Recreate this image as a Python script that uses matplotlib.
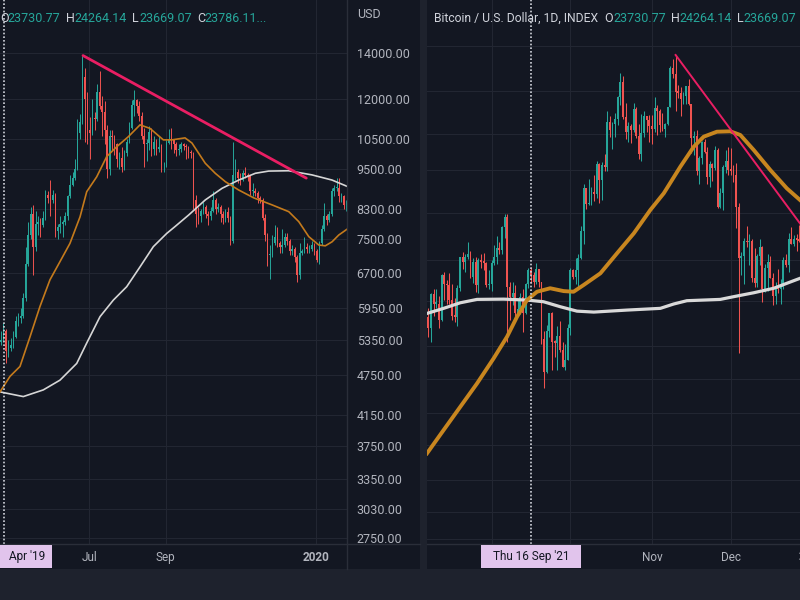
import numpy as np
import matplotlib.pyplot as plt
from matplotlib.patches import Rectangle
from matplotlib.lines import Line2D
from matplotlib.ticker import NullLocator
import matplotlib.transforms as mtransforms

plt.rcParams['font.family'] = ['Roboto', 'DejaVu Sans']

BG = '#131722'
OUTER = '#1e222d'
GRID = '#222632'
BORDER = '#2a2e39'
TXT = '#b2b5be'
LABEL = '#d1d4dc'
UP = '#26a69a'
DOWN = '#ef5350'
BOX = '#e1c4ec'

# ---- left chart: BTC/USD, 2-day candles from 2019-04-20 ----
left_start = '2019-04-20'
left_open0 = 5300
left_close = [5350, 5500, 5150, 5200, 5250, 5400, 5700, 5750, 5800, 6150,
              6900, 7600, 8150, 7300, 7900, 7950, 7850, 8050, 8700, 8600,
              8550, 8700, 7700, 7800, 7900, 7950, 8100, 8650, 9000, 9200,
              9500, 10700, 11100, 12900, 12000, 10800, 10700, 11250, 11200, 12300,
              11700, 11500, 10800, 9500, 10600, 10550, 10300, 9800, 9850, 9550,
              10000, 10400, 10900, 11750, 11950, 11700, 11350, 10600, 10300, 10350,
              10750, 10150, 10400, 10150, 10200, 9600, 9600, 10350, 10500, 10450,
              10300, 10100, 10150, 10300, 10250, 10200, 10050, 10000, 8550, 8150,
              8100, 8250, 8350, 8150, 8100, 8250, 8550, 8300, 8350, 8150,
              8050, 8200, 8050, 7450, 9300, 9400, 9200, 9150, 9350, 9300,
              9250, 8800, 8800, 8750, 8600, 8550, 8050, 7600, 7100, 7100,
              7400, 7550, 7400, 7300, 7350, 7550, 7450, 7200, 7250, 7050,
              6650, 7150, 7200, 7300, 7250, 7250, 7350, 7200, 7000, 7400,
              7750, 8100, 8000, 8150, 8800, 8900, 8900, 8650, 8650, 8400, 8500]
left_high = [5500, 5650, 5550, 5350, 5380, 5500, 5800, 5850, 5950, 6250,
             7300, 7950, 8350, 8400, 8250, 8100, 8050, 8250, 8850, 8800,
             9150, 8850, 8750, 7900, 8100, 8000, 8200, 8700, 9300, 9400,
             9800, 11200, 11400, 13850, 13300, 12300, 11300, 12000, 11500, 12600,
             13200, 12100, 11900, 11000, 10800, 10800, 10650, 10350, 10050, 10200,
             10100, 10500, 11100, 11950, 12350, 12000, 11900, 11500, 10900, 10500,
             10950, 10900, 10600, 10500, 10600, 10300, 9700, 10450, 10850, 10900,
             10500, 10400, 10300, 10400, 10350, 10300, 10250, 10100, 10050, 8700,
             8350, 8300, 8500, 8400, 8250, 8350, 8800, 8600, 8450, 8400,
             8250, 8300, 8350, 8100, 10400, 9800, 9500, 9350, 9450, 9550,
             9350, 9300, 9050, 8900, 8800, 8650, 8600, 8150, 7650, 7350,
             7600, 7850, 7800, 7450, 7750, 7650, 7650, 7500, 7350, 7300,
             7100, 7400, 7250, 7550, 7400, 7350, 7450, 7400, 7250, 7450,
             7850, 8450, 8150, 8250, 8900, 9000, 9200, 9200, 8750, 8700, 8550]
left_low = [5250, 5300, 4950, 5050, 5150, 5200, 5380, 5600, 5650, 5750,
            6100, 6850, 7500, 6650, 7200, 7600, 7550, 7800, 8000, 8450,
            8100, 8450, 7550, 7500, 7650, 7550, 7850, 8000, 8600, 8950,
            9150, 9450, 10500, 11050, 10400, 10300, 9800, 10650, 10800, 11150,
            11600, 10600, 10300, 9200, 9300, 10100, 9950, 9550, 9500, 9400,
            9450, 9900, 10350, 10850, 11350, 11450, 11150, 10500, 9550, 9750,
            10100, 9900, 9950, 9950, 10050, 9400, 9400, 9550, 10300, 10150,
            10000, 9900, 9950, 10050, 10100, 9800, 9850, 9850, 8300, 7800,
            7900, 7950, 8150, 8050, 7850, 8000, 8200, 8150, 8200, 7950,
            7900, 7950, 7950, 7350, 7400, 9150, 9050, 9000, 9100, 9200,
            9100, 8700, 8650, 8650, 8450, 8450, 8000, 7450, 6850, 6550,
            7050, 7350, 7300, 7150, 7150, 7300, 7350, 7100, 7100, 6950,
            6500, 6550, 7100, 7150, 7150, 7150, 7200, 7100, 6950, 6900,
            7350, 7700, 7850, 7950, 8100, 8650, 8800, 8500, 8500, 8300, 8250]

# moving averages (day offset from left_start, price)
left_ma50_day = [-0.3, 7.8, 15.9, 24.0, 32.1, 40.2, 48.3, 56.4, 64.6, 70.0, 78.1, 86.2, 94.3,
                 103.7, 113.2, 121.3, 132.1, 139.1, 149.7, 155.3, 166.1, 174.2, 182.4, 193.2,
                 205.4, 220.2, 233.8, 241.9, 250.0, 258.1, 263.4, 268.9, 274.3, 281]
left_ma50 = [4490, 4730, 4890, 5400, 5980, 6540, 6950, 7390, 8080, 8790, 9240, 9890, 10220,
             10570, 11000, 10870, 10460, 10460, 10530, 10350, 9670, 9350, 9090, 8840,
             8610, 8410, 8220, 7950, 7560, 7350, 7330, 7430, 7600, 7750]
left_ma200_day = [-0.3, 18.6, 34.8, 48.3, 61.9, 70.0, 80.8, 91.6, 102.4, 113.2, 124.0, 134.8,
                  141.6, 152.7, 166.1, 179.7, 193.2, 206.7, 217.5, 233.7, 252.6, 268.9, 281]
left_ma200 = [4490, 4420, 4520, 4670, 4940, 5290, 5780, 6110, 6390, 6830, 7310, 7640,
              7820, 8130, 8550, 8890, 9140, 9350, 9420, 9430, 9300, 9140, 8950]
left_trend_dates = ['2019-06-26', '2019-12-24']
left_trend_prices = [13880, 9200]
left_price_ticks = [14000, 12000, 10500, 9500, 8300, 7500, 6700, 5950, 5350,
                    4750, 4150, 3750, 3350, 3030, 2750]
left_time_ticks = ['2019-07-01', '2019-09-01', '2020-01-01']
left_time_labels = ['Jul', 'Sep', '2020']
left_cross = '2019-04-23'

# ---- right chart: Bitcoin / U.S. Dollar, daily from 2021-08-08 ----
right_start = '2021-08-08'
right_open0 = 44600
right_close = [43800, 46300, 45600, 45600, 44400, 47800, 47100, 47000, 45900, 44700, 44600, 46800,
               49300, 48900, 49300, 49500, 47700, 48900, 47000, 49000, 48900, 48800, 47000, 47100,
               48800, 49300, 50000, 49900, 51800, 52700, 46900, 46100, 46400, 44900, 45200, 46100,
               44900, 47100, 48200, 47800, 47300, 48300, 47300, 43000, 40700, 43600, 44900, 42800,
               42700, 43200, 42200, 41000, 41500, 43800,
               48200, 47700, 48200, 49200, 51500, 55300, 53800, 53900, 54900, 54700, 57500, 56000,
               57400, 57300, 61700, 60900, 61500, 62000, 64300, 66000, 62200, 60700, 61300, 60900,
               63100, 60300, 58500, 60600, 62300, 61900, 61300,
               61000, 63200, 62900, 61400, 61000, 61500, 63300, 67500, 66900, 64900, 64800, 64100,
               64400, 65500, 63600, 60100, 60300, 56900, 58100, 59700, 58700, 56300, 57500, 57200,
               58900, 53600, 54800, 57300, 57800, 57000,
               56900, 56500, 53600, 49200, 49400, 50600, 50500, 50600, 47600, 47200, 49400, 50100,
               46700, 48400, 48900, 47600, 46200, 46800, 46700, 46900, 49000, 48600, 50800, 50400,
               50800, 50700, 50600]
right_high = [45300, 46400, 46700, 46700, 46200, 47900, 48100, 47400, 48000, 47100, 46000, 47000,
              49300, 49700, 49500, 50500, 49800, 49200, 49300, 49200, 49500, 49600, 48900, 48200,
              49000, 50300, 51000, 50500, 51900, 52900, 52900, 47300, 47300, 47000, 45900, 46400,
              46700, 47200, 48400, 48500, 48100, 48800, 48300, 47300, 43600, 44000, 44900, 45000,
              42900, 43900, 44300, 42800, 42600, 44100,
              48400, 48300, 49200, 49500, 51900, 55700, 55300, 56100, 55400, 56500, 57800, 57600,
              57700, 58500, 62900, 62300, 61700, 62600, 64400, 67000, 66600, 63700, 61700, 61500,
              63700, 63300, 61500, 62500, 62900, 62300, 62400,
              62400, 64300, 63500, 63100, 62600, 61600, 63300, 67800, 68500, 69000, 65600, 65400,
              64900, 65500, 66300, 63600, 60800, 60900, 58300, 59800, 60000, 59200, 57800, 57600,
              59300, 59100, 55300, 57400, 58900, 59200,
              59100, 57400, 57600, 53900, 49700, 50900, 51900, 51200, 50800, 50000, 49500, 50800,
              50200, 48700, 49500, 49400, 48000, 47300, 48300, 47500, 49300, 49500, 51300, 51800,
              51100, 51200, 52000]
right_low = [43100, 42800, 44700, 45300, 43800, 44300, 45900, 45600, 45600, 44400, 44200, 43900,
             46600, 48300, 48100, 49100, 47600, 47200, 46500, 46400, 48400, 48200, 46900, 46700,
             46600, 48600, 48700, 49500, 49500, 50900, 42800, 44400, 45500, 44200, 44800, 44800,
             43500, 44800, 46800, 47200, 46900, 47100, 46900, 42600, 39600, 40600, 43100, 40800,
             41700, 40800, 42100, 41000, 40800, 41500,
             43300, 47500, 47100, 46900, 49100, 50400, 53400, 53700, 53700, 54100, 54400, 53900,
             54200, 56900, 56900, 60200, 59000, 60200, 61400, 63500, 62000, 60000, 59700, 59600,
             60700, 60100, 58000, 57800, 60200, 60700, 59700,
             59500, 60700, 60400, 60700, 60800, 60200, 61400, 63300, 66400, 62800, 64200, 62300,
             63600, 63600, 63500, 58600, 58400, 56500, 55700, 57500, 58600, 55700, 55400, 55900,
             57000, 53500, 53500, 53300, 56700, 56500,
             56500, 55800, 51700, 42000, 47800, 47100, 50100, 48600, 47300, 46900, 46900, 48600,
             45700, 46500, 46600, 47600, 45500, 45600, 46400, 45600, 46700, 48500, 48100, 50400,
             50200, 49800, 50500]

right_ma50_day = [-0.53, 5.8, 12.1, 18.5, 24.8, 29.9, 33.7, 37.5, 41.3, 46.3, 51.4, 55.2, 59.0,
                  65.4, 71.7, 78.1, 84.4, 89.5, 95.8, 100.9, 104.7, 109.7, 114.8, 118.6, 123.7,
                  130.0, 136.3, 141.3]
right_ma50 = [35530, 36940, 38390, 39920, 41620, 43150, 44610, 45870, 46510, 46780, 46560, 46510,
              47030, 47960, 49580, 51260, 53300, 54800, 57280, 59220, 60220, 60720, 60760, 60390,
              58900, 56970, 55250, 54190]
right_ma200_day = [-0.53, 5.8, 12.1, 18.5, 28.6, 37.5, 43.8, 50.2, 56.5, 62.9, 75.5, 88.2, 93.3,
                   98.3, 111.0, 116.1, 123.7, 131.3, 141.3]
right_ma200 = [44860, 45240, 45660, 45920, 45940, 45870, 45740, 45360, 45030, 44960, 45110,
               45240, 45570, 45820, 45920, 46130, 46430, 46780, 47560]
right_trend_dates = ['2021-11-10', '2021-12-28']
right_trend_prices = [69000, 51900]
right_grid = [70000, 65000, 60500, 57000, 53000, 49000, 45800, 42500, 40200, 38000,
              36000, 34000, 32200, 30800]
right_time_ticks = ['2021-09-01', '2021-10-01', '2021-11-01', '2021-12-01']
right_time_labels = ['', '', 'Nov', 'Dec']
right_cross = '2021-09-16'


def day(d, start):
    return (np.datetime64(d) - np.datetime64(start)) / np.timedelta64(1, 'D')


def fx(px):
    return px / 800


def fy(py):
    return 1 - py / 600


def candles(ax, x, open0, close, high, low, width, wick):
    c = np.array(close, dtype=float)
    o = np.concatenate([[open0], c[:-1]])
    h = np.maximum(np.array(high, dtype=float), np.maximum(o, c))
    l = np.minimum(np.array(low, dtype=float), np.minimum(o, c))
    colors = np.where(c >= o, UP, DOWN)
    ax.vlines(x, l, h, colors=colors, lw=wick, zorder=3)
    bottom = np.minimum(o, c)
    height = np.maximum(np.abs(c - o), bottom * 0.003)
    ax.bar(x, height, width, bottom=bottom, color=colors, lw=0, zorder=4)


fig = plt.figure(figsize=(8, 6), dpi=100, facecolor=OUTER)

# pane backgrounds
fig.add_artist(Rectangle((0, fy(569)), fx(420), 569 / 600, transform=fig.transFigure,
                         fc=BG, ec='none', zorder=-2))
fig.add_artist(Rectangle((fx(427), fy(569)), fx(373), 569 / 600, transform=fig.transFigure,
                         fc=BG, ec='none', zorder=-2))

# ---------------- left ----------------
ax = fig.add_axes([0, fy(544), fx(347), 544 / 600])
ax.set_facecolor(BG)
ax.set_yscale('log')
ax.set_ylim(2695, 16725)
ax.set_xlim(-0.3, 281)
ax.yaxis.set_minor_locator(NullLocator())
ax.set_yticks(left_price_ticks)
ax.set_yticklabels([f'{v:.2f}' for v in left_price_ticks])
ax.yaxis.tick_right()
ax.tick_params(axis='y', length=0, pad=7, labelsize=9, labelcolor=TXT)
ax.set_xticks([day(d, left_start) for d in left_time_ticks])
ax.set_xticklabels(left_time_labels)
ax.tick_params(axis='x', length=0, pad=5, labelsize=8.5, labelcolor=TXT)
ax.get_xticklabels()[-1].set_fontweight('bold')
ax.grid(True, color=GRID, lw=0.8, zorder=0)
for s in ax.spines.values():
    s.set_visible(False)

lx = np.arange(len(left_close)) * 2 + 0.5
candles(ax, lx, left_open0, left_close, left_high, left_low, 1.2, 0.7)
ax.plot(left_ma200_day, left_ma200, color='#d6d6d6', lw=1.2, zorder=5)
ax.plot(left_ma50_day, left_ma50, color='#c47a1c', lw=1.2, zorder=5)
ax.plot([day(d, left_start) for d in left_trend_dates], left_trend_prices,
        color='#e91e63', lw=2, solid_capstyle='round', zorder=6)
ax.axvline(day(left_cross, left_start), color=LABEL, lw=1.2, ls=(0, (1, 1.2)), zorder=7)

# ---------------- right ----------------
ax2 = fig.add_axes([fx(427), fy(544), fx(373), 544 / 600])
ax2.set_facecolor(BG)
ax2.set_yscale('log')
ax2.set_ylim(30550, 75620)
ax2.set_xlim(-0.53, 141.3)
ax2.yaxis.set_minor_locator(NullLocator())
ax2.set_yticks(right_grid)
ax2.tick_params(axis='y', length=0, labelleft=False, labelright=False)
ax2.set_xticks([day(d, right_start) for d in right_time_ticks])
ax2.set_xticklabels(right_time_labels)
ax2.tick_params(axis='x', length=0, pad=5, labelsize=8.5, labelcolor=TXT)
ax2.grid(True, color=GRID, lw=0.8, zorder=0)
for s in ax2.spines.values():
    s.set_visible(False)

rx = np.arange(len(right_close))
candles(ax2, rx, right_open0, right_close, right_high, right_low, 0.72, 0.75)
ax2.plot(right_ma200_day, right_ma200, color='#d9d9d9', lw=2.3, zorder=5,
         solid_joinstyle='round')
ax2.plot(right_ma50_day, right_ma50, color='#c8861f', lw=2.8, zorder=5,
         solid_joinstyle='round')
ax2.plot([day(d, right_start) for d in right_trend_dates], right_trend_prices,
         color='#e91e63', lw=1.4, zorder=6)
ax2.axvline(day(right_cross, right_start), color=LABEL, lw=1.2, ls=(0, (1, 1.2)), zorder=7)
tr = mtransforms.blended_transform_factory(ax2.transData, ax2.transAxes)
ax2.text(day('2022-01-01', right_start), -13 / 544, '2022', transform=tr, ha='center',
         va='center', fontsize=8.5, color=TXT, fontweight='bold', clip_on=False)

# borders
fig.add_artist(Line2D([0, fx(420)], [fy(544)] * 2, color=BORDER, lw=1, transform=fig.transFigure))
fig.add_artist(Line2D([fx(427), 1], [fy(544)] * 2, color=BORDER, lw=1, transform=fig.transFigure))
fig.add_artist(Line2D([fx(347)] * 2, [fy(0), fy(569)], color=BORDER, lw=1, transform=fig.transFigure))

# legend lines at the top
top_left = [('O', 0, LABEL), ('23730.77', 7, UP), ('H', 66, LABEL), ('24264.14', 74, UP),
            ('L', 132, LABEL), ('23669.07', 139, UP), ('C', 197, LABEL), ('23786.11...', 204, UP)]
top_right = [('O', 604, LABEL), ('23730.77', 613, UP), ('H', 671, LABEL), ('24264.14', 679, UP),
             ('L', 737, LABEL), ('23669.07', 743, UP)]
for s, x, c in top_left + top_right:
    fig.text(fx(x), fy(18), s, ha='left', va='center', fontsize=9, color=c)
fig.text(fx(434), fy(18), 'Bitcoin / U.S. Dollar, 1D, INDEX', ha='left', va='center',
         fontsize=8.7, color=LABEL)
fig.text(fx(357), fy(14), 'USD', ha='left', va='center', fontsize=9, color=TXT)

# crosshair date labels
fig.add_artist(Rectangle((0, fy(568)), fx(52), 23 / 600, transform=fig.transFigure,
                         fc=BOX, ec='none', zorder=8))
fig.text(fx(27), fy(556.5), "Apr '19", ha='center', va='center', fontsize=8.5,
         color=BG, zorder=9)
fig.add_artist(Rectangle((fx(481), fy(568)), fx(100), 23 / 600, transform=fig.transFigure,
                         fc=BOX, ec='none', zorder=8))
fig.text(fx(531), fy(556.5), "Thu 16 Sep '21", ha='center', va='center', fontsize=8.5,
         color=BG, zorder=9)

fig.savefig('out.png', dpi=100, facecolor=OUTER)
